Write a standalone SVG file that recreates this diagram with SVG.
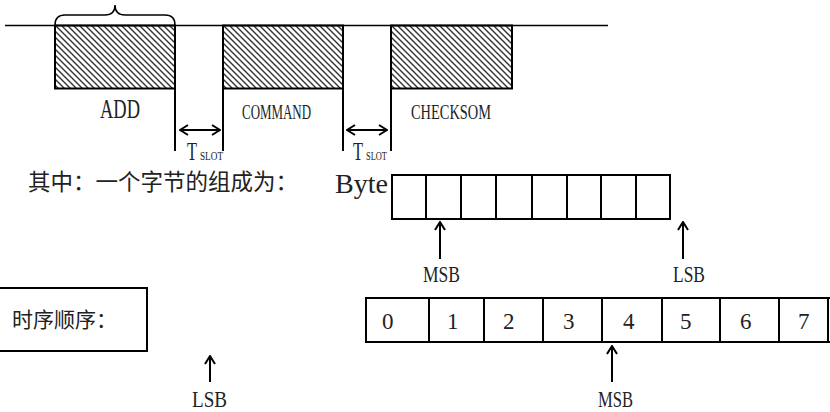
<svg xmlns="http://www.w3.org/2000/svg" width="830" height="412" viewBox="0 0 830 412">
<defs>
<pattern id="hatch" patternUnits="userSpaceOnUse" width="6" height="6">
<path d="M0,0 L6,6 M-1,5 L1,7 M5,-1 L7,1" stroke="#333" stroke-width="1.4"/>
</pattern>
<marker id="ah" viewBox="0 0 10 12" refX="9" refY="6" markerWidth="10" markerHeight="12" markerUnits="userSpaceOnUse" orient="auto-start-reverse">
<path d="M1,1 L9,6 L1,11" fill="none" stroke="#000" stroke-width="2"/>
</marker>
</defs>
<style>
.ln{stroke:#000;stroke-width:2;fill:none}
.thin{stroke:#000;stroke-width:1.5;fill:none}
.blk{fill:url(#hatch);stroke:#000;stroke-width:2}
.box{fill:#fff;stroke:#000;stroke-width:2}
.serif{fill:#222}
.cjk{fill:#222}
.arr{stroke:#000;stroke-width:2;fill:none;marker-end:url(#ah)}
.darr{stroke:#000;stroke-width:2;fill:none;marker-end:url(#ah);marker-start:url(#ah)}
</style>
<g id="timeline">
<line class="thin" x1="5" y1="25.5" x2="608" y2="25.5"/>
</g>
<g id="brace">
<path class="thin" d="M55,25 Q55,15 65,15 L105,15 Q115,15 115,5 Q115,15 125,15 L165,15 Q175,15 175,25"/>
</g>
<g font-family="'Liberation Serif', 'DejaVu Serif', serif">
<g id="add">
<rect class="blk" x="55" y="25.5" width="120" height="63"/>
<text class="serif" x="100" y="118" font-size="27" textLength="40" lengthAdjust="spacingAndGlyphs">ADD</text>
</g>
<g id="command">
<rect class="blk" x="223" y="25.5" width="120" height="63"/>
<text class="serif" x="242" y="119" font-size="21" textLength="69" lengthAdjust="spacingAndGlyphs">COMMAND</text>
</g>
<g id="checksom">
<rect class="blk" x="391" y="25.5" width="121" height="63"/>
<text class="serif" x="411" y="119" font-size="21" textLength="80" lengthAdjust="spacingAndGlyphs">CHECKSOM</text>
</g>
<g id="slot1">
<text class="serif" x="187" y="160" font-size="25" textLength="10" lengthAdjust="spacingAndGlyphs">T</text>
<text class="serif" x="200" y="160" font-size="12" textLength="23" lengthAdjust="spacingAndGlyphs">SLOT</text>
</g>
<g id="slot2">
<text class="serif" x="353" y="160" font-size="25" textLength="10" lengthAdjust="spacingAndGlyphs">T</text>
<text class="serif" x="366" y="160" font-size="12" textLength="21" lengthAdjust="spacingAndGlyphs">SLOT</text>
</g>
<g id="caption">
<text class="cjk" x="28" y="190" font-size="22.5" font-family="'Noto Sans CJK SC', 'Noto Sans CJK JP', sans-serif">其中：一个字节的组成为：</text>
<text class="serif" x="335" y="193" font-size="27" textLength="53" lengthAdjust="spacingAndGlyphs">Byte</text>
</g>
<g id="byte">
<rect class="box" x="392" y="175" width="278" height="44"/>
<path class="ln" d="M426,175V219 M461,175V219 M496,175V219 M532,175V219 M567,175V219 M601,175V219 M636,175V219"/>
</g>
<g id="labels">
<text class="serif" x="423" y="282" font-size="24" textLength="37" lengthAdjust="spacingAndGlyphs">MSB</text>
<text class="serif" x="673" y="282" font-size="24" textLength="32" lengthAdjust="spacingAndGlyphs">LSB</text>
<g transform="translate(192,407) scale(1,1.2)"><text class="serif" x="0" y="0" font-size="19" textLength="35" lengthAdjust="spacingAndGlyphs">LSB</text></g>
<g transform="translate(598,407) scale(1,1.2)"><text class="serif" x="0" y="0" font-size="19" textLength="35" lengthAdjust="spacingAndGlyphs">MSB</text></g>
</g>
<g id="order-label">
<rect class="box" x="-2" y="288" width="149" height="63"/>
<text class="cjk" x="12" y="327" font-size="21" font-family="'Noto Sans CJK SC', 'Noto Sans CJK JP', sans-serif">时序顺序：</text>
</g>
<g id="order">
<rect class="box" x="366" y="298" width="470" height="44"/>
<path class="ln" d="M429,298V342 M484,298V342 M543,298V342 M602,298V342 M662,298V342 M720,298V342 M779,298V342 M828,298V342"/>
<g class="serif" font-size="23">
<text x="382" y="329">0</text>
<text x="447" y="329">1</text>
<text x="503" y="329">2</text>
<text x="563" y="329">3</text>
<text x="623" y="329">4</text>
<text x="680" y="329">5</text>
<text x="740" y="329">6</text>
<text x="798" y="329">7</text>
</g>
</g>
</g>
<g id="connectors">
<path class="ln" d="M175,88V151 M223,88V151 M343,88V151 M391,88V151"/>
<line class="darr" x1="180" y1="130" x2="220" y2="130"/>
<line class="darr" x1="347" y1="130" x2="387" y2="130"/>
<line class="arr" x1="440" y1="259" x2="440" y2="222"/>
<line class="arr" x1="683" y1="259" x2="683" y2="222"/>
<line class="arr" x1="210" y1="382" x2="210" y2="356"/>
<line class="arr" x1="612" y1="382" x2="612" y2="346"/>
</g>
</svg>
